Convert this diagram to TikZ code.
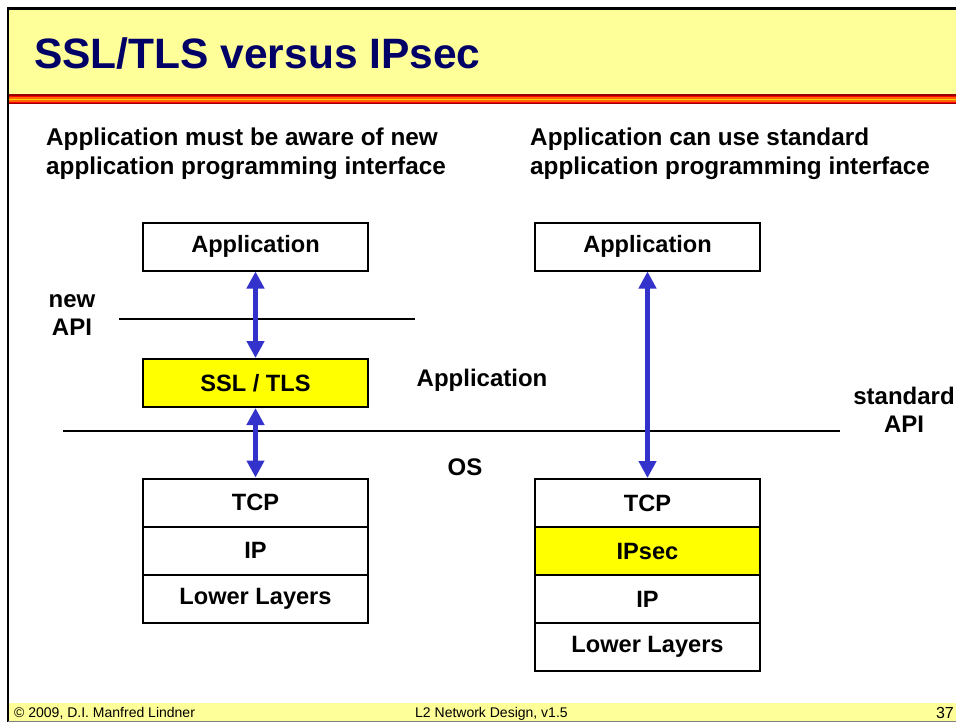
\documentclass[tikz,border=0pt]{standalone}
\usepackage{fontspec}
\setmainfont{Liberation Sans}
\usetikzlibrary{arrows.meta}
\definecolor{hdryellow}{HTML}{FFFF99}
\definecolor{boxyellow}{HTML}{FFFF00}
\definecolor{arrblue}{HTML}{3333CC}
\definecolor{titleblue}{HTML}{000066}
\definecolor{dkred}{HTML}{990000}
\definecolor{brred}{HTML}{FF0000}
\definecolor{orng}{HTML}{FF6600}
\definecolor{gold}{HTML}{FFCC00}
\begin{document}
\begin{tikzpicture}[x=1pt,y=-1pt,
  layerbox/.style={draw=black,line width=2pt,minimum width=225pt,minimum height=48pt,inner sep=0pt,
    font=\fontsize{23.6}{27}\selectfont\bfseries},
  lbl/.style={font=\fontsize{24}{28}\selectfont\bfseries,inner sep=0pt,align=center},
  body/.style={font=\fontsize{24.3}{28}\selectfont\bfseries,inner sep=0pt,anchor=base west},
  dblarrow/.style={arrblue,line width=5pt,{Triangle[width=17pt,length=17pt]}-{Triangle[width=17pt,length=17pt]}},
  rule/.style={black,line width=2pt}]
\useasboundingbox (0,0) rectangle (956,725);
% header
\fill[hdryellow] (9,9) rectangle (956,94);
\fill[dkred] (9,94) rectangle (956,95.5);
\fill[brred] (9,95.5) rectangle (956,97);
\fill[orng] (9,97) rectangle (956,98.5);
\fill[gold] (9,98.5) rectangle (956,100);
\fill[orng] (9,100) rectangle (956,101.5);
\fill[brred] (9,101.5) rectangle (956,103);
\fill[dkred] (9,103) rectangle (956,104);
\draw[black,line width=2.5pt] (7,8.5) -- (956,8.5);
\draw[black,line width=2pt] (8,7.5) -- (8,722);
% footer
\fill[hdryellow] (9,703) rectangle (956,721);
\draw[gray,line width=1.5pt] (8,721.5) -- (956,721.5);
\node[anchor=base west,inner sep=0pt,font=\fontsize{14}{16}\selectfont] (copy) at (14,717) {© 2009, D.I. Manfred Lindner};
\node[anchor=base west,inner sep=0pt,font=\fontsize{14}{16}\selectfont] (course) at (415,717) {L2 Network Design, v1.5};
\node[anchor=base east,inner sep=0pt,font=\fontsize{16}{18}\selectfont] (page) at (954,718) {37};
% title
\node[anchor=base west,inner sep=0pt,text=titleblue,font=\fontsize{42.5}{48}\selectfont\bfseries] (title) at (34,69) {SSL/TLS versus IPsec};
% body text
\node[body] (t1) at (46,145) {Application must be aware of new};
\node[body] (t2) at (46,174) {application programming interface};
\node[body] (t3) at (530,145) {Application can use standard};
\node[body] (t4) at (530,174) {application programming interface};
% rules
\coordinate (na1) at (119,319);
\coordinate (na2) at (415,319);
\coordinate (sa1) at (63,431);
\coordinate (sa2) at (840,431);
\draw[rule] (na1) -- (na2);
\draw[rule] (sa1) -- (sa2);
\node[lbl] (newapi) at (72,315) {new\\API};
\node[lbl] (stdapi) at (904,410) {standard\\API};
\node[lbl] (applbl) at (482,380) {Application};
\node[lbl] (oslbl) at (465,467) {OS};
% left stack
\node[layerbox,fill=white] (lapp) at (255.5,246.5) {Application};
\node[layerbox,fill=boxyellow] (lssl) at (255.5,383) {SSL / TLS};
\node[layerbox,fill=white] (ltcp) at (255.5,502.5) {TCP};
\node[layerbox,fill=white] (lip) at (255.5,550.5) {IP};
\node[layerbox,fill=white] (llow) at (255.5,598.5) {Lower Layers};
% right stack
\node[layerbox,fill=white] (rapp) at (647.5,246.5) {Application};
\node[layerbox,fill=white] (rtcp) at (647.5,503) {TCP};
\node[layerbox,fill=boxyellow] (rsec) at (647.5,551) {IPsec};
\node[layerbox,fill=white] (rip) at (647.5,599) {IP};
\node[layerbox,fill=white] (rlow) at (647.5,647) {Lower Layers};
% arrows
\draw[dblarrow] (lapp.south) -- (lssl.north);
\draw[dblarrow] (lssl.south) -- (ltcp.north);
\draw[dblarrow] (rapp.south) -- (rtcp.north);
\end{tikzpicture}
\end{document}
